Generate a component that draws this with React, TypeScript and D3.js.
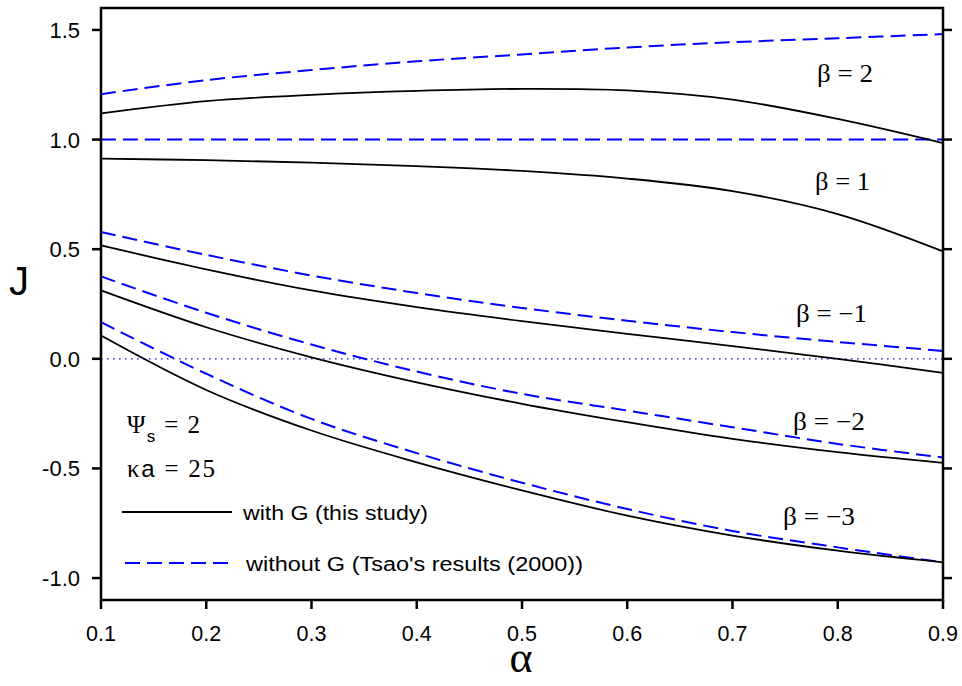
import React from "react";
import * as d3 from "d3";

const alphas = [0.1, 0.2, 0.3, 0.4, 0.5, 0.6, 0.7, 0.8, 0.9];
const betaLabels = ["β = 2", "β = 1", "β = −1", "β = −2", "β = −3"];

const withG_b2 = [1.119, 1.175, 1.204, 1.222, 1.231, 1.224, 1.182, 1.094, 0.984];
const withG_b1 = [0.913, 0.906, 0.895, 0.879, 0.857, 0.822, 0.765, 0.66, 0.49];
const withG_bm1 = [0.517, 0.408, 0.312, 0.236, 0.172, 0.114, 0.058, 0.0, -0.064];
const withG_bm2 = [0.312, 0.144, 0.007, -0.107, -0.205, -0.289, -0.365, -0.426, -0.475];
const withG_bm3 = [0.106, -0.142, -0.327, -0.472, -0.6, -0.715, -0.806, -0.875, -0.928];

const noG_b2 = [1.207, 1.271, 1.317, 1.357, 1.388, 1.42, 1.444, 1.462, 1.481];
const noG_b1 = [1, 1, 1, 1, 1, 1, 1, 1, 1];
const noG_bm1 = [0.578, 0.474, 0.38, 0.3, 0.232, 0.174, 0.122, 0.077, 0.036];
const noG_bm2 = [0.376, 0.21, 0.065, -0.058, -0.16, -0.236, -0.312, -0.388, -0.45];
const noG_bm3 = [0.167, -0.068, -0.274, -0.43, -0.565, -0.685, -0.785, -0.86, -0.928];

const xTicks = [0.1, 0.2, 0.3, 0.4, 0.5, 0.6, 0.7, 0.8, 0.9];
const yTicks = [-1.0, -0.5, 0.0, 0.5, 1.0, 1.5];

const withG = [withG_b2, withG_b1, withG_bm1, withG_bm2, withG_bm3];
const noG = [noG_b2, noG_b1, noG_bm1, noG_bm2, noG_bm3];

const SANS = "Liberation Sans, Arial, sans-serif";
const SERIF = "Liberation Serif, Times New Roman, serif";

export default function App() {
  const L = 101, R = 943, T = 8, B = 600;
  const x = d3.scaleLinear().domain([0.1, 0.9]).range([L, R]);
  const y = d3.scaleLinear().domain([-1.1, 1.6]).range([B, T]);
  const line = d3
    .line<number>()
    .x((_, i) => x(alphas[i]))
    .y((d) => y(d))
    .curve(d3.curveCatmullRom.alpha(0.5));

  const labelPos = [
    { x: 817, y: 82, w: 56 },
    { x: 815, y: 190, w: 55 },
    { x: 796, y: 322, w: 71 },
    { x: 793, y: 430, w: 72 },
    { x: 783, y: 525, w: 72 },
  ];

  return (
    <svg
      width={962}
      height={686}
      style={{ position: "absolute", left: 0, top: 0, background: "#fff" }}
    >
      <rect x={0} y={0} width={962} height={686} fill="#fff" />
      <line
        x1={L}
        x2={R}
        y1={y(0)}
        y2={y(0)}
        stroke="#0000ff"
        strokeWidth={1.2}
        strokeDasharray="1.5,4.5"
      />
      {noG.map((s, i) => (
        <path
          key={"n" + i}
          d={line(s) || ""}
          fill="none"
          stroke="#0000ff"
          strokeWidth={2}
          strokeDasharray="15,7"
        />
      ))}
      {withG.map((s, i) => (
        <path key={"w" + i} d={line(s) || ""} fill="none" stroke="#000" strokeWidth={1.8} />
      ))}
      <rect x={L} y={T} width={R - L} height={B - T} fill="none" stroke="#000" strokeWidth={2.5} />
      {yTicks.map((t) => (
        <g key={"yl" + t}>
          <line x1={L - 9} x2={L} y1={y(t)} y2={y(t)} stroke="#000" strokeWidth={2.5} />
          <line x1={R} x2={R + 9} y1={y(t)} y2={y(t)} stroke="#000" strokeWidth={2.5} />
          <text
            x={80}
            y={y(t) + 8}
            textAnchor="end"
            fontFamily={SANS}
            fontSize={22}
            fill="#000"
          >
            {t.toFixed(1)}
          </text>
        </g>
      ))}
      {xTicks.map((t) => (
        <g key={"xt" + t}>
          <line x1={x(t)} x2={x(t)} y1={B} y2={B + 9} stroke="#000" strokeWidth={2.5} />
          <text
            x={x(t)}
            y={641}
            textAnchor="middle"
            fontFamily={SANS}
            fontSize={21.5}
            fill="#000"
          >
            {t.toFixed(1)}
          </text>
        </g>
      ))}
      <text x={9} y={295} fontFamily={SANS} fontSize={40} fill="#000">
        J
      </text>
      <text x={521} y={672} textAnchor="middle" fontFamily={SERIF} fontSize={44} fill="#000">
        α
      </text>
      {betaLabels.map((b, i) => (
        <text
          key={b}
          x={labelPos[i].x}
          y={labelPos[i].y}
          fontFamily={SERIF}
          fontSize={25}
          textLength={labelPos[i].w}
          lengthAdjust="spacingAndGlyphs"
          fill="#000"
        >
          {b}
        </text>
      ))}
      <text
        x={127}
        y={433}
        fontFamily={SERIF}
        fontSize={25}
        fill="#000"
        textLength={73}
        lengthAdjust="spacing"
      >
        Ψ
        <tspan fontFamily={SANS} fontSize={17} dy={9}>
          s
        </tspan>
        <tspan dy={-9}> = 2</tspan>
      </text>
      <text
        x={127}
        y={477}
        fontFamily={SERIF}
        fontSize={25}
        fill="#000"
        textLength={88}
        lengthAdjust="spacing"
      >
        κ<tspan fontFamily={SANS} fontSize={24}>a</tspan> = 25
      </text>
      <line x1={122} x2={232} y1={512} y2={512} stroke="#000" strokeWidth={1.8} />
      <text
        x={243}
        y={520}
        fontFamily={SANS}
        fontSize={20}
        textLength={185}
        lengthAdjust="spacingAndGlyphs"
        fill="#000"
      >
        with G (this study)
      </text>
      <line
        x1={125}
        x2={232}
        y1={563}
        y2={563}
        stroke="#0000ff"
        strokeWidth={2}
        strokeDasharray="15,7"
      />
      <text
        x={246}
        y={571}
        fontFamily={SANS}
        fontSize={20}
        textLength={337}
        lengthAdjust="spacingAndGlyphs"
        fill="#000"
      >
        without G (Tsao's results (2000))
      </text>
    </svg>
  );
}
